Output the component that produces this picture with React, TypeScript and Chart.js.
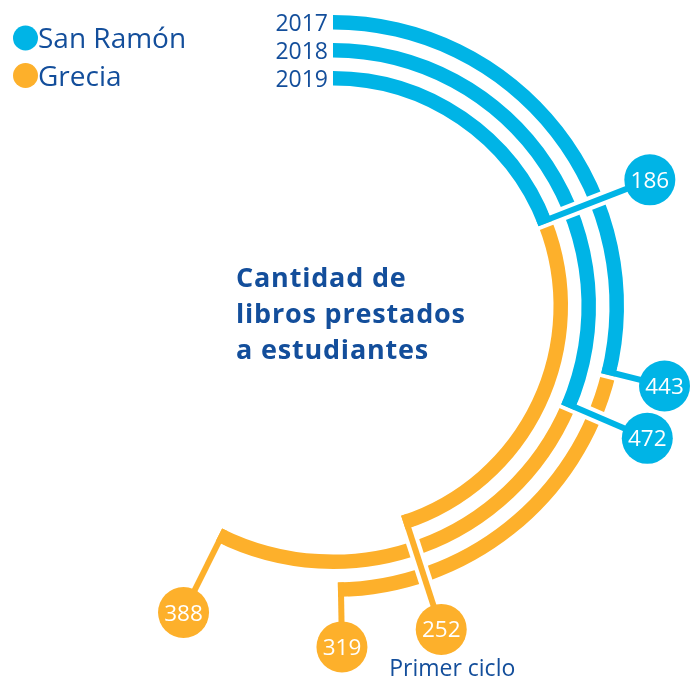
import React, { useEffect, useRef } from 'react';
import { Chart, registerables } from 'chart.js';

Chart.register(...registerables);

// ---- data ----
const years = ['2017', '2018', '2019'];
const campuses = ['San Ramón', 'Grecia'];
const sanRamon = [443, 472, 186];
const grecia = [319, 388, 252];
const titleLines = ['Cantidad de', 'libros prestados', 'a estudiantes'];
const categoryLabel = 'Primer ciclo';

// ---- style ----
const BLUE = '#00b4e6';
const ORANGE = '#fdb02b';
const NAVY = '#134e9b';
const FONT = '"Open Sans", "Noto Sans", sans-serif';
const RING = 14.5;
const GAP = 13.5;

export default function App() {
  const ref = useRef<HTMLCanvasElement>(null);

  useEffect(() => {
    const canvas = ref.current!;
    const ringSweeps = [179, 206.5, 162];
    const colors = [BLUE, ORANGE];

    const datasets: any[] = [];
    years.forEach((y, i) => {
      if (i > 0) {
        datasets.push({
          label: 'spacer' + i,
          data: [1],
          backgroundColor: 'rgba(0,0,0,0)',
          weight: GAP,
          circumference: 360,
          borderWidth: 0,
          isSpacer: true,
        });
      }
      datasets.push({
        label: y,
        data: [sanRamon[i], grecia[i]],
        backgroundColor: colors,
        weight: RING,
        circumference: ringSweeps[i],
        rotation: 0,
        borderWidth: 0,
      });
    });

    const deco = {
      id: 'deco',
      afterDatasetsDraw(chart: any) {
        const ctx: CanvasRenderingContext2D = chart.ctx;
        const rings: any[] = [];
        chart.data.datasets.forEach((d: any, i: number) => {
          if (!d.isSpacer) rings.push({ d, meta: chart.getDatasetMeta(i) });
        });
        let maxOuter = 0;
        const conns: any[] = [];
        rings.forEach(({ d, meta }, ri) => {
          meta.data.forEach((arc: any, j: number) => {
            const p = arc.getProps(['x', 'y', 'startAngle', 'endAngle', 'innerRadius', 'outerRadius'], true);
            maxOuter = Math.max(maxOuter, p.outerRadius);
            conns.push({ ...p, theta: p.endAngle, color: colors[j], value: d.data[j], first: j === 0, ring: ri, seg: j });
          });
        });
        const bubbleDist = maxOuter + 50;
        const pt = (c: any, r: number, off: number) => {
          const cs = Math.cos(c.theta), sn = Math.sin(c.theta);
          return [c.x + r * cs - off * sn, c.y + r * sn + off * cs];
        };
        const line = (a: number[], b: number[]) => {
          ctx.beginPath();
          ctx.moveTo(a[0], a[1]);
          ctx.lineTo(b[0], b[1]);
          ctx.stroke();
        };
        ctx.save();
        ctx.lineCap = 'butt';
        // gaps between segments
        ctx.strokeStyle = '#ffffff';
        ctx.lineWidth = 4;
        conns.forEach((c) => {
          if (c.first) line(pt(c, c.innerRadius - 1, 2), pt(c, c.outerRadius + 1, 2));
        });
        // halos
        ctx.lineWidth = 14;
        conns.forEach((c) => line(pt(c, c.outerRadius, -3), pt(c, bubbleDist, -3)));
        // connectors
        ctx.lineWidth = 6;
        conns.forEach((c) => {
          ctx.strokeStyle = c.color;
          line(pt(c, c.innerRadius, -3), pt(c, bubbleDist, -3));
        });
        // bubbles
        conns.forEach((c) => {
          const [bx, by] = pt(c, bubbleDist, -3);
          ctx.fillStyle = c.color;
          ctx.beginPath();
          ctx.arc(bx, by, 25.5, 0, Math.PI * 2);
          ctx.fill();
          ctx.fillStyle = '#ffffff';
          ctx.font = `22.5px ${FONT}`;
          ctx.textAlign = 'center';
          ctx.textBaseline = 'alphabetic';
          ctx.fillText(String(c.value), bx, by + 8);
          if (c.ring === rings.length - 1 && c.seg === 1) {
            ctx.fillStyle = NAVY;
            ctx.font = `23px ${FONT}`;
            ctx.fillText(categoryLabel, bx + 11, by + 47);
          }
        });
        // year labels
        ctx.fillStyle = NAVY;
        ctx.font = `23px ${FONT}`;
        ctx.textAlign = 'right';
        rings.forEach(({ d, meta }) => {
          const a = meta.data[0];
          const rc = (a.innerRadius + a.outerRadius) / 2;
          ctx.fillText(d.label, a.x - 5, a.y - rc + 9);
        });
        // legend
        ctx.textAlign = 'left';
        ctx.font = `28px ${FONT}`;
        const legendY = [38, 75.5];
        campuses.forEach((name, k) => {
          ctx.fillStyle = colors[k];
          ctx.beginPath();
          ctx.arc(25.5, legendY[k], 12.5, 0, Math.PI * 2);
          ctx.fill();
          ctx.fillStyle = NAVY;
          ctx.fillText(name, 38, legendY[k] + 10);
        });
        // title
        ctx.font = `bold 27px ${FONT}`;
        (ctx as any).letterSpacing = '0.8px';
        titleLines.forEach((t, k) => {
          ctx.fillText(t, 236, 287 + k * 35.8);
        });
        (ctx as any).letterSpacing = '0px';
        ctx.restore();
      },
    };

    const chart = new Chart(canvas, {
      type: 'doughnut',
      data: { labels: campuses, datasets },
      options: {
        responsive: false,
        animation: false,
        cutout: 291 - (3 * RING + 2 * GAP),
        layout: { padding: { left: 42, top: 15, right: 69, bottom: 82 } },
        plugins: { legend: { display: false }, tooltip: { enabled: false } },
        events: [],
      } as any,
      plugins: [deco],
    });
    return () => chart.destroy();
  }, []);

  return (
    <div style={{ position: 'absolute', left: 0, top: 0, width: 693, height: 679, background: '#fff' }}>
      <canvas ref={ref} width={693} height={679} style={{ display: 'block' }} />
    </div>
  );
}
